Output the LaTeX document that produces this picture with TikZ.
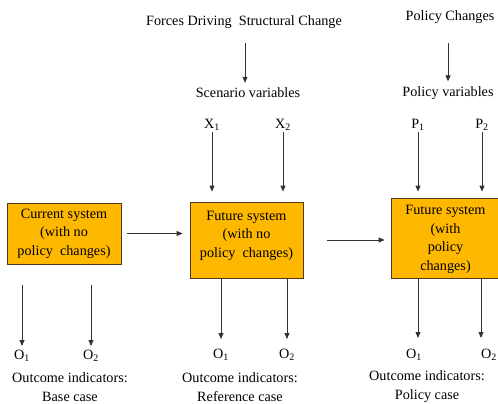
\documentclass[tikz,border=0pt]{standalone}
\usepackage{fontspec}
\setmainfont{Liberation Serif}[Ligatures=TeX]
\usetikzlibrary{positioning, arrows.meta, calc}
\definecolor{boxorange}{RGB}{255,184,0}
\definecolor{boxedge}{RGB}{80,55,30}

\begin{document}
\begin{tikzpicture}[x=1pt, y=-1pt,
                sysbox/.style={draw=boxedge, line width=0.8pt, fill=boxorange, rectangle, align=center, inner sep=2pt, font=\rmfamily\fontsize{14.2}{18.5}\selectfont},
                lbl/.style={inner sep=1pt, align=center, font=\rmfamily\fontsize{14.2}{19}\selectfont},
                arr/.style={draw=black!80, line width=0.8pt, -{Triangle[length=6pt, width=5pt]}}
            ]
            \useasboundingbox (0,0) rectangle (498,404);

            % Knoten
            \node[sysbox, minimum width=114pt, minimum height=61pt] (cur) at (64,233.5) {Current system\\(with no\\policy\ \ changes)};
            \node[sysbox, minimum width=113pt, minimum height=76pt, text depth=12pt] (fut) at (246.5,240) {Future system\\(with no\\policy\ \ changes)};
            \node[sysbox, minimum width=109pt, minimum height=80pt, text depth=0pt] (pol) at (445.5,238) {Future system\\(with\\policy\\changes)};

            \node[lbl] (forces) at (244,22) {Forces Driving\ \ Structural Change};
            \node[lbl] (scen) at (248,93) {Scenario variables};
            \node[lbl] (xa) at (212,125) {X\textsubscript{1}};
            \node[lbl] (xb) at (283,125) {X\textsubscript{2}};

            \node[lbl] (polchg) at (450,17) {Policy Changes};
            \node[lbl] (polvar) at (448,93) {Policy variables};
            \node[lbl] (pa) at (418,125) {P\textsubscript{1}};
            \node[lbl] (pb) at (482,125) {P\textsubscript{2}};

            \node[lbl] (oa1) at (22,356) {O\textsubscript{1}};
            \node[lbl] (ob1) at (91,356) {O\textsubscript{2}};
            \node[lbl] (case1) at (70,387) {Outcome indicators:\\Base case};

            \node[lbl] (oa2) at (221,355) {O\textsubscript{1}};
            \node[lbl] (ob2) at (287,355) {O\textsubscript{2}};
            \node[lbl] (case2) at (240,387) {Outcome indicators:\\Reference case};

            \node[lbl] (oa3) at (414,355) {O\textsubscript{1}};
            \node[lbl] (ob3) at (489,355) {O\textsubscript{2}};
            \node[lbl] (case3) at (427,387) {Outcome indicators:\\Policy case};
            \coordinate (ta3) at (418,338);
            \coordinate (tb3) at (481,338);
            \coordinate (fa) at (245,43);
            \coordinate (pc) at (448,43);

            % Kanten oben
            \draw[arr, shorten >=4pt] (fa) -- (fa |- scen.north);
            \draw[arr, shorten >=4pt] (pc) -- (pc |- polvar.north);

            \draw[arr] (xa) -- ([yshift=10pt]fut.north -| xa);
            \draw[arr] (xb) -- ([yshift=10pt]fut.north -| xb);
            \draw[arr] (pa) -- ([yshift=6pt]pol.north -| pa);
            \draw[arr] (pb) -- ([yshift=6pt]pol.north -| pb);

            % Kanten zwischen Systemen
            \draw[arr, shorten <=6pt, shorten >=7pt] (cur.east) -- (cur.east -| fut.west);
            \draw[arr, shorten <=24pt, shorten >=6pt] (fut.east) -- (fut.east -| pol.west);

            % Kanten nach unten
            \draw[arr, shorten >=3pt] ([yshift=-21pt]cur.south -| oa1) -- (oa1);
            \draw[arr, shorten >=3pt] ([yshift=-21pt]cur.south -| ob1) -- (ob1);
            \draw[arr, shorten >=9pt] (fut.south -| oa2) -- (oa2);
            \draw[arr, shorten >=9pt] (fut.south -| ob2) -- (ob2);
            \draw[arr] (pol.south -| ta3) -- (ta3);
            \draw[arr] (pol.south -| tb3) -- (tb3);

        \end{tikzpicture}
\end{document}
